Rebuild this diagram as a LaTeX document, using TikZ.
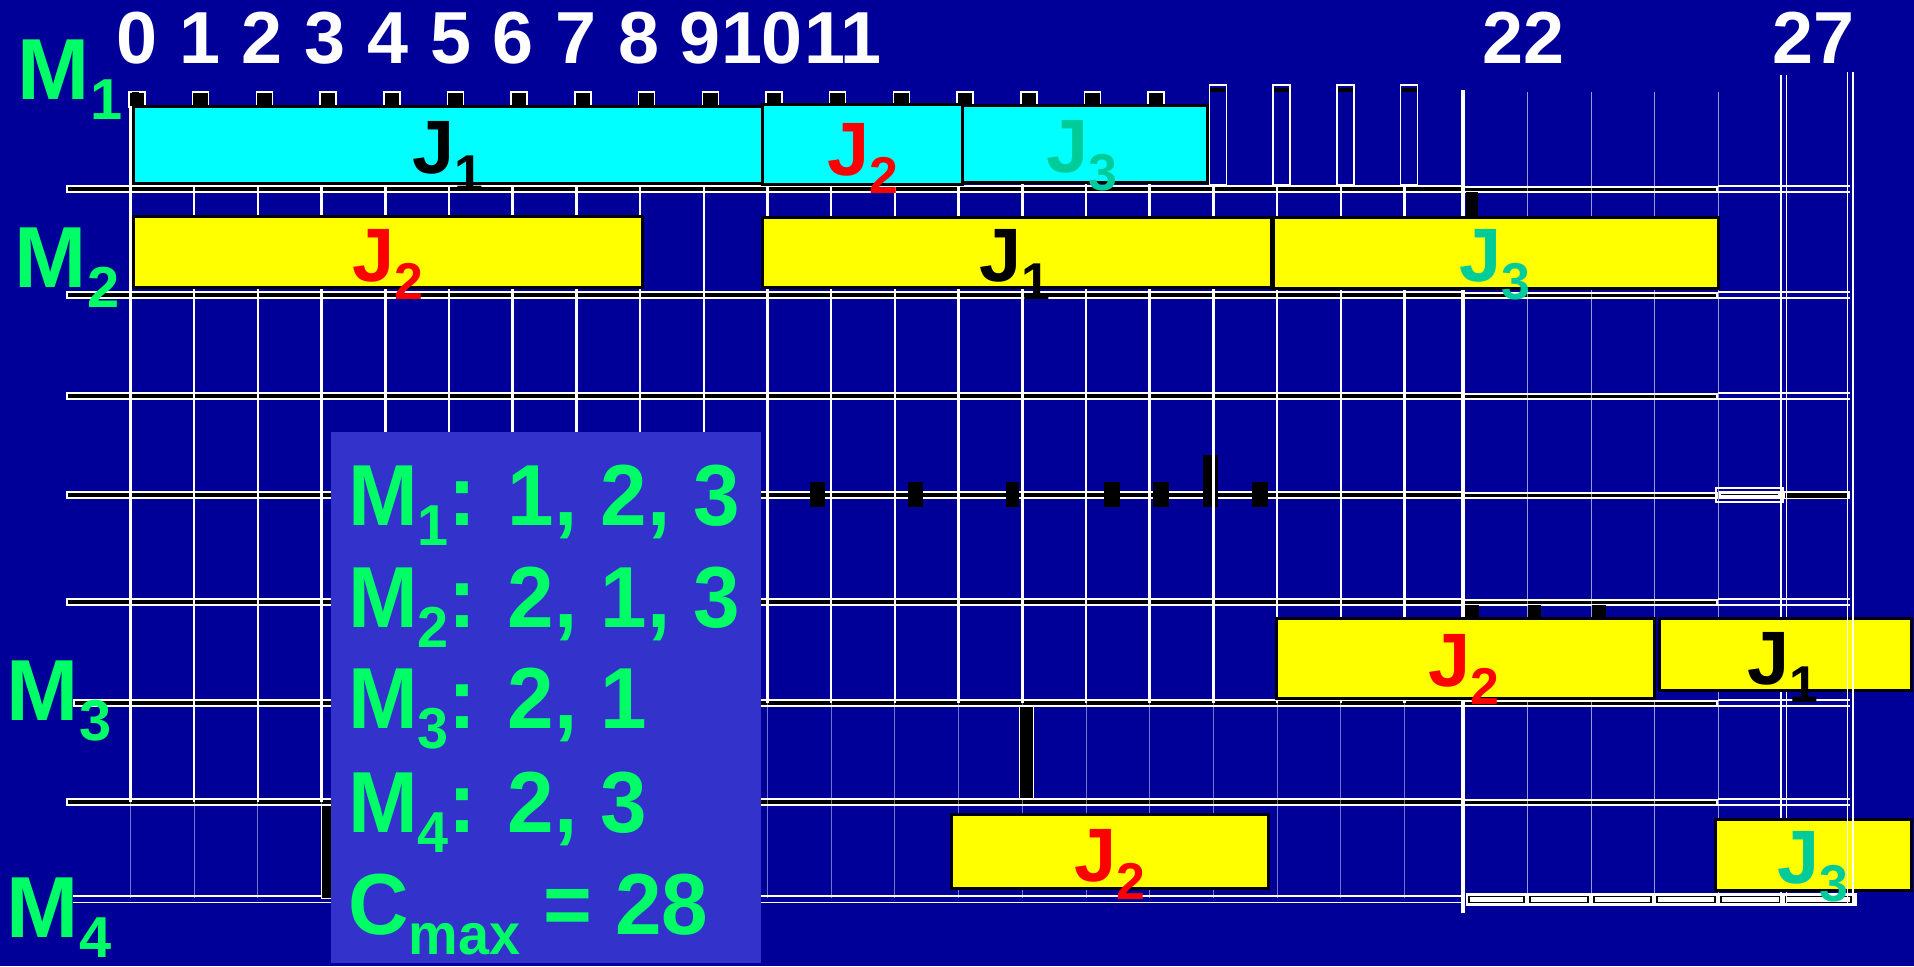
\documentclass[tikz,border=0pt]{standalone}
\usepackage{fontspec}
\setmainfont{Liberation Sans}
\definecolor{bg}{RGB}{0,0,153}
\definecolor{boxblue}{RGB}{51,51,204}
\definecolor{mgreen}{RGB}{0,255,102}
\definecolor{tealj}{RGB}{0,204,153}
\definecolor{cyanb}{RGB}{0,255,255}
\definecolor{yell}{RGB}{255,255,0}
\newcommand{\Msub}[1]{M\raisebox{-20bp}{\fontsize{58}{58}\selectfont #1}}
\newcommand{\Jsub}[1]{J\raisebox{-18bp}{\fontsize{52}{52}\selectfont #1}}
\begin{document}
\begin{tikzpicture}[x=1bp,y=-1bp,
  bar/.style={draw=black, line width=3bp, inner sep=0pt, outer sep=0pt, anchor=north west},
  jlab/.style={anchor=base, inner sep=0pt, font=\fontsize{76}{76}\selectfont\bfseries},
  mlab/.style={anchor=base west, inner sep=0pt, text=mgreen, font=\fontsize{87}{87}\selectfont\bfseries},
  infolab/.style={mlab, font=\fontsize{87}{87}\selectfont\bfseries\addfontfeatures{FakeStretch=0.965}},
  ticklab/.style={anchor=base, inner sep=0pt, text=white, font=\fontsize{74}{74}\selectfont\bfseries},
  hwhite/.style={white, line width=8bp},
  hcore/.style={black, line width=4bp},
  vsolid/.style={white, line width=2.5bp},
  vfaint/.style={white, opacity=0.45, line width=1bp},
  blackmark/.style={fill=black}
]
\fill[bg] (0,0) rectangle (1914,966);
\useasboundingbox (0,0) rectangle (1914,966);

% ---------- horizontal lines ----------
\foreach \yy/\xs in {189/66,295/66,396/66,495/66,602/66,703/73,802/66}{
  \draw[hwhite] (\xs,\yy) -- (1463,\yy);
  \draw[hcore] (\xs+2,\yy) -- (1461,\yy);
}
\foreach \yy in {189,295,396,602,703,802}{
  \draw[white, line width=7bp] (1463,\yy) -- (1718,\yy);
  \draw[black, line width=3bp] (1465,\yy) -- (1716,\yy);
  \draw[white, line width=1.5bp] (1718,\yy-3) -- (1850,\yy-3) (1718,\yy+3) -- (1850,\yy+3);
}
% line at 495, right part
\draw[white, line width=7bp] (1463,495) -- (1718,495);
\draw[black, line width=3bp] (1465,495) -- (1716,495);
\draw[white, line width=1.5bp] (1716,488) rectangle (1783,502);
\fill[white] (1719,491) rectangle (1780,499);
\draw[black, line width=1.5bp] (1721,494.5) -- (1778,494.5);
\draw[white, line width=8bp] (1783,495) -- (1850,495);
\draw[black, line width=5bp] (1785,495) -- (1848,495);
% bottom line
\draw[white, line width=1.5bp] (73,896) -- (1463,896) (73,902.5) -- (1463,902.5);
\fill[white] (1466,893) rectangle (1857,906);
\foreach \a/\b in {1466/1527,1527/1591,1591/1654,1654/1718,1718/1783,1783/1854}{
  \draw[black, line width=1.2bp] (\a+3,896.5) rectangle (\b-3,902.5);
}

% ---------- marks on the 495 line ----------
\foreach \a/\b in {810/825,908/923,1006/1019,1104/1120,1153/1169,1252/1268}{
  \fill[blackmark] (\a,482) rectangle (\b,507);
}
\fill[blackmark] (1203,455) rectangle (1218,507);

% ---------- vertical lines ----------
\foreach \t in {0,...,20}{
  \pgfmathsetmacro{\xx}{130.5+63.7*\t}
  \pgfmathsetmacro{\ytop}{\t<17 ? 92 : 185}
  \pgfmathsetmacro{\ybot}{\t<4 ? 802 : 703}
  \draw[vsolid] (\xx,\ytop) -- (\xx,\ybot);
  \draw[vfaint] (\xx,\ybot) -- (\xx,898);
}
\draw[white, line width=4bp] (1463,90) -- (1463,913);
\foreach \xx in {1527,1591,1654,1718}{
  \draw[white, opacity=0.6, line width=1bp] (\xx,92) -- (\xx,898);
}
\draw[white, line width=1.5bp] (1781,75) -- (1781,903) (1786.5,75) -- (1786.5,903);

% ---------- top ticks ----------
\foreach \t in {0,...,16}{
  \pgfmathsetmacro{\xx}{130.5+63.7*\t}
  \filldraw[fill=black, draw=white, line width=1.5bp] (\xx-1.5,92) rectangle (\xx+14.5,107);
}
\fill[black] (132,92) rectangle (138.5,184);
\foreach \t in {17,...,20}{
  \pgfmathsetmacro{\xx}{130.5+63.7*\t}
  \filldraw[fill=bg, draw=white, line width=1.5bp] (\xx-4,85) rectangle (\xx+13,185);
  \fill[black] (\xx-3,87.5) rectangle (\xx+12,92);
}

% ---------- other black marks ----------
\fill[blackmark] (1466,192) rectangle (1478,217);
\foreach \a/\b in {1465/1479,1528/1541,1592/1606}{
  \fill[blackmark] (\a,605) rectangle (\b,618);
}
\filldraw[fill=black, draw=white, line width=1bp] (1019,706) rectangle (1033,798);
\filldraw[fill=black, draw=white, line width=1bp] (321,805) rectangle (331,898);

% ---------- information box ----------
\node[fill=boxblue, inner sep=0pt, outer sep=0pt, minimum width=430bp, minimum height=531bp, anchor=north west] (info) at (331,432) {};
\node[infolab] (i1) at (348,525) {\Msub{1}: 1, 2, 3};
\node[infolab] (i2) at (348,627) {\Msub{2}: 2, 1, 3};
\node[infolab] (i3) at (348,728) {\Msub{3}: 2, 1};
\node[infolab] (i4) at (348,832) {\Msub{4}: 2, 3};
\node[infolab] (i5) at (348,934) {C\raisebox{-20bp}{\fontsize{58}{58}\selectfont max} = 28};

% ---------- bars ----------
\node[bar, fill=cyanb, minimum width=631bp, minimum height=77bp] (m1j1) at (133,106) {};
\node[bar, fill=cyanb, minimum width=200bp, minimum height=80bp] (m1j2) at (762,104) {};
\node[bar, fill=cyanb, minimum width=245bp, minimum height=77bp] (m1j3) at (962,105) {};
\node[bar, fill=yell, minimum width=509bp, minimum height=71bp] (m2j2) at (133,216) {};
\node[bar, fill=yell, minimum width=509bp, minimum height=70bp] (m2j1) at (762,217) {};
\node[bar, fill=yell, minimum width=445bp, minimum height=71bp] (m2j3) at (1273,217) {};
\node[bar, fill=yell, minimum width=378bp, minimum height=80bp] (m3j2) at (1276,618) {};
\node[bar, fill=yell, minimum width=252bp, minimum height=72bp] (m3j1) at (1659,618) {};
\node[bar, fill=yell, minimum width=317bp, minimum height=74bp] (m4j2) at (951,814) {};
\node[bar, fill=yell, minimum width=196bp, minimum height=71bp] (m4j3) at (1715,819) {};

\node[jlab, text=black] (l11) at (448,173) {\Jsub{1}};
\node[jlab, text=red]   (l12) at (863,175) {\Jsub{2}};
\node[jlab, text=tealj] (l13) at (1082,172) {\Jsub{3}};
\node[jlab, text=red]   (l22) at (388,281) {\Jsub{2}};
\node[jlab, text=black] (l21) at (1015,281) {\Jsub{1}};
\node[jlab, text=tealj] (l23) at (1495,281) {\Jsub{3}};
\node[jlab, text=red]   (l32) at (1464,686) {\Jsub{2}};
\node[jlab, text=black] (l31) at (1783,684) {\Jsub{1}};
\node[jlab, text=red]   (l42) at (1110,881) {\Jsub{2}};
\node[jlab, text=tealj] (l43) at (1813,883) {\Jsub{3}};

% right double line, on top of the bars
\draw[white, line width=1.5bp] (1847.5,72) -- (1847.5,905) (1853,72) -- (1853,905);

% ---------- time labels ----------
\foreach \t in {0,...,8}{
  \node[ticklab] (tl\t) at ({137+62.7*\t},63) {\t};
}
\node[ticklab] (tl9) at (700,63) {9};
\node[ticklab] (tl10) at (762,63) {10};
\node[ticklab] (tl11) at (843,63) {11};
\node[ticklab] (tl22) at (1523,63) {22};
\node[ticklab] (tl27) at (1813,63) {27};

% ---------- machine labels ----------
\node[mlab] (m1) at (17.6,99) {\Msub{1}};
\node[mlab] (m2) at (14.6,287) {\Msub{2}};
\node[mlab] (m3) at (6.6,720) {\Msub{3}};
\node[mlab] (m4) at (6.6,937) {\Msub{4}};
\end{tikzpicture}
\end{document}
